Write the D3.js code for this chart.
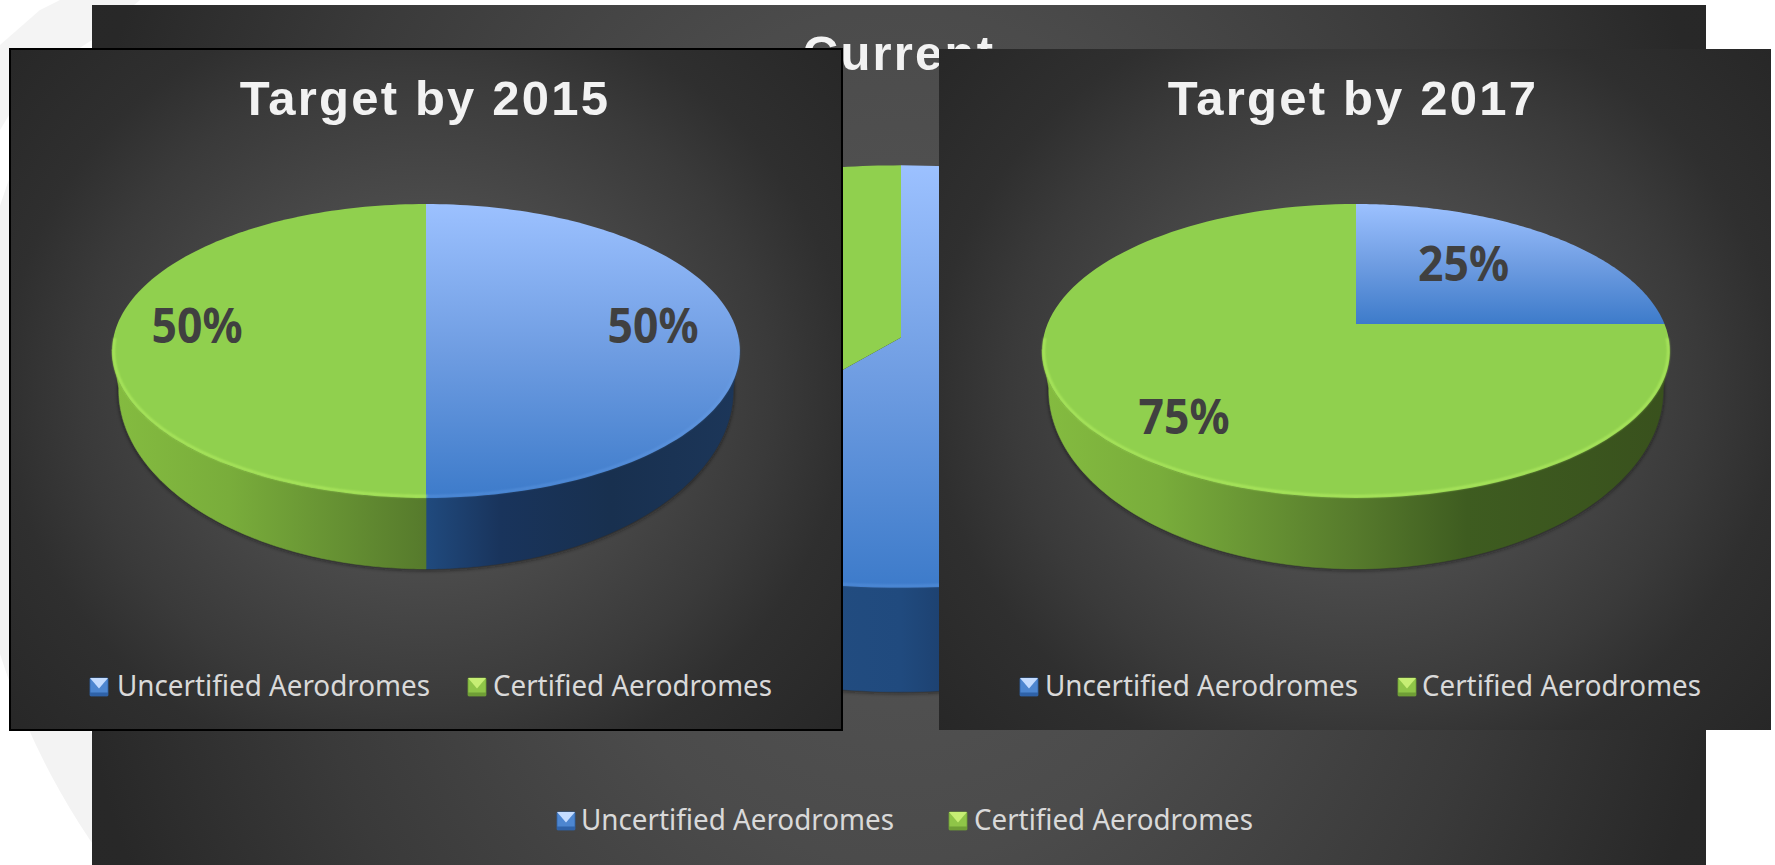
<!DOCTYPE html>
<html><head><meta charset="utf-8">
<script src="https://cdn.jsdelivr.net/npm/d3@7"></script>
<style>html,body{margin:0;background:#fff;overflow:hidden}svg{display:block}</style>
</head><body><svg id="c" width="1775" height="865"></svg>
<script>
const categories = ["Uncertified Aerodromes", "Certified Aerodromes"];
const currentValues = [61, 39];
const target2015Values = [50, 50];
const target2017Values = [25, 75];
const titleCurrent = "Current";
const title2015 = "Target by 2015";
const title2017 = "Target by 2017";

const svg = d3.select("#c"), defs = svg.append("defs");
const fmt = d => d + "%";
const deg = Math.PI / 180;

// watermark behind the slide panels
svg.append("path").attr("transform", "translate(700,430)")
  .attr("d", d3.arc()({innerRadius: 680, outerRadius: 735, startAngle: 205 * deg, endAngle: 300 * deg}))
  .attr("fill", "#f3f3f3");
svg.append("path").attr("d", d3.line()([[0, 45], [40, 10], [60, 0], [140, 0], [92, 40], [30, 80], [0, 130]]))
  .attr("fill", "#f4f4f4");

function radialBg(id, tf, stops, r) {
  const rg = defs.append("radialGradient").attr("id", id)
    .attr("cx", .5).attr("cy", .5).attr("r", r)
    .attr("gradientTransform", tf);
  stops.forEach(s => rg.append("stop").attr("offset", s[0]).attr("stop-color", s[1]));
}
radialBg("panelBg", "translate(.5 .5) scale(.88 1) translate(-.5 -.5)",
  [[0, "#555555"], [.3, "#4e4e4e"], [.62, "#3a3a3a"], [.76, "#2f2f2f"], [1, "#272727"]], .76);
radialBg("backBg", "translate(.5 .5) scale(.7 1.6) translate(-.5 -.5)",
  [[0, "#565656"], [.31, "#4b4b4b"], [.55, "#3a3a3a"], [.75, "#282828"], [1, "#262626"]], 1);

const topBlue = defs.append("linearGradient").attr("id", "topBlue").attr("x1", 0).attr("x2", 0).attr("y1", 0).attr("y2", 1);
[[0, "#9cc1ff"], [.5, "#6f9de2"], [1, "#3d7bca"]].forEach(s => topBlue.append("stop").attr("offset", s[0]).attr("stop-color", s[1]));

const blur = defs.append("filter").attr("id", "soft").attr("x", "-10%").attr("y", "-10%").attr("width", "120%").attr("height", "120%");
blur.append("feGaussianBlur").attr("stdDeviation", 2.2);
const blurThin = defs.append("filter").attr("id", "thin").attr("x", "-10%").attr("y", "-10%").attr("width", "120%").attr("height", "120%");
blurThin.append("feGaussianBlur").attr("stdDeviation", 1);

const sideStops = [
  [[0, "#2b5789"], [.5, "#204a7e"], [.62, "#19345c"], [.8, "#18304f"], [1, "#1c3659"]],
  [[0, "#84bb40"], [.18, "#79ad3b"], [.5, "#567a2c"], [.68, "#3e5c20"], [1, "#39511d"]]
];
const topFill = ["url(#topBlue)", "#90d04e"];
const rimColor = ["#6ea6ee", "#b0ec60"];
const rimOpacity = [.4, .9];

function drawChart(o) {
  const g = svg.append("g");
  const {x0, y0, x1, y1, border, bg} = o.panel;
  g.append("rect").attr("x", x0).attr("y", y0).attr("width", x1 - x0).attr("height", y1 - y0)
    .attr("fill", `url(#${bg})`);
  if (border) g.append("rect").attr("x", x0).attr("y", y0).attr("width", x1 - x0).attr("height", y1 - y0)
    .attr("fill", "none").attr("stroke", "#000").attr("stroke-width", 2);

  const {cx, apexY, R, c, b, depth, botR, botC} = o.pie;
  const proj = (lvl) => a => {
    const u = Math.sin(a), v = Math.cos(a), w = 1 + b * v;
    return [cx + lvl.R * u / w, lvl.y - lvl.c * v / w];
  };
  const frontY = apexY + c / (1 - b) + depth;
  const top = proj({R, c, y: apexY});
  // inner copy of the rim, so that the highlight stays inside the disc
  const topIn = proj({R: R - 1.5, c: c - 1.5, y: apexY});
  const bot = proj({R: botR, c: botC, y: frontY - botC / (1 - b)});
  const line = d3.line();
  const samples = (a0, a1) => d3.range(0, 121).map(i => a0 + (a1 - a0) * i / 120);

  const arcs = d3.pie().sort(null).startAngle(0).endAngle(2 * Math.PI)(o.values);
  const sideA = 100 * deg, sideB = 260 * deg;

  // soft shadow under the disc
  g.append("path").attr("d", line(samples(0, 2 * Math.PI).map(bot)) + "Z")
    .attr("transform", "translate(0,1)")
    .attr("fill", "#161616").attr("opacity", .8).attr("filter", "url(#soft)");

  arcs.forEach((d, i) => {
    const id = o.id + "side" + i;
    const gr = defs.append("linearGradient").attr("id", id).attr("gradientUnits", "userSpaceOnUse")
      .attr("x1", cx - R).attr("x2", cx + R).attr("y1", 0).attr("y2", 0);
    sideStops[i].forEach(s => gr.append("stop").attr("offset", s[0]).attr("stop-color", s[1]));
    const a0 = Math.max(d.startAngle, sideA), a1 = Math.min(d.endAngle, sideB);
    if (a1 > a0) {
      const pts = samples(a0, a1);
      g.append("path").attr("d", line(pts.map(top).concat(pts.slice().reverse().map(bot))) + "Z")
        .attr("fill", `url(#${id})`).attr("stroke", `url(#${id})`).attr("stroke-width", .6);
    }
  });
  arcs.forEach((d, i) => {
    g.append("path")
      .attr("d", line([[cx, apexY]].concat(samples(d.startAngle, d.endAngle).map(top))) + "Z")
      .attr("fill", topFill[i]);
  });
  arcs.forEach((d, i) => {
    const a0 = Math.max(d.startAngle, 96 * deg), a1 = Math.min(d.endAngle, 264 * deg);
    if (a1 > a0) g.append("path").attr("d", line(samples(a0, a1).map(topIn)))
      .attr("fill", "none").attr("stroke", rimColor[i]).attr("stroke-width", 2.2)
      .attr("stroke-linecap", "round").attr("opacity", rimOpacity[i])
      .attr("filter", "url(#thin)");
  });

  if (o.labelAt) {
    g.selectAll("text.lbl").data(arcs).join("text").attr("class", "lbl")
      .attr("x", (d, i) => o.labelAt[i][0]).attr("y", (d, i) => o.labelAt[i][1])
      .attr("text-anchor", "middle")
      .attr("textLength", 91).attr("lengthAdjust", "spacingAndGlyphs")
      .attr("font-family", "'Noto Sans'").attr("font-weight", 700).attr("font-size", 48)
      .attr("fill", "#404040").text(d => fmt(d.data));
  }

  g.append("text").attr("x", o.titleX).attr("y", o.titleY).attr("text-anchor", "middle")
    .attr("font-family", "'Liberation Sans'").attr("font-weight", 700).attr("font-size", 49)
    .attr("letter-spacing", 2.2).attr("fill", "#f2f2f2").text(o.title);

  // legend
  const lg = g.selectAll("g.leg").data(categories).join("g").attr("class", "leg")
    .attr("transform", (d, i) => `translate(${o.legend[i]},${o.legendY})`);
  const sw = 18;
  const swBody = [["#2f62a8", "#4d86d0"], ["#6f9e36", "#8fc548"]];
  const swTop = ["#c4dcff", "#c6ee74"];
  lg.append("rect").attr("x", 0).attr("y", -sw).attr("width", sw).attr("height", sw).attr("rx", 1)
    .attr("fill", (d, i) => swBody[i][1]).attr("stroke", (d, i) => swBody[i][0]).attr("stroke-width", .8);
  lg.append("path").attr("d", line([[0, -sw], [sw, -sw], [sw / 2, -sw * .42]]) + "Z")
    .attr("fill", (d, i) => swTop[i]);
  lg.append("rect").attr("x", 0).attr("y", -3.5).attr("width", sw).attr("height", 3.5)
    .attr("fill", (d, i) => swBody[i][0]);
  lg.append("text").attr("x", (d, i) => o.legendText[i][0]).attr("y", 0)
    .attr("textLength", (d, i) => o.legendText[i][1]).attr("lengthAdjust", "spacingAndGlyphs")
    .attr("font-family", "'Noto Sans'").attr("font-size", 29).attr("fill", "#d9d9d9").text(d => d);
}

drawChart({
  id: "cur", values: currentValues, title: titleCurrent, titleX: 899, titleY: 70,
  panel: {x0: 92, y0: 5, x1: 1706, y1: 865, bg: "backBg"},
  pie: {cx: 901, apexY: 337.5, R: 443, c: 204, b: .185, depth: 104, botR: 434, botC: 248},
  legend: [557, 949], legendY: 830, legendText: [[24, 313], [25, 279]]
});
drawChart({
  id: "t15", values: target2015Values, title: title2015, titleX: 425, titleY: 115,
  panel: {x0: 10, y0: 49, x1: 842, y1: 730, border: true, bg: "panelBg"},
  pie: {cx: 426, apexY: 324, R: 308.5, c: 142, b: .1837, depth: 71, botR: 302, botC: 173},
  legend: [90, 468], legendY: 696, legendText: [[27, 313], [25, 279]],
  labelAt: [[653, 343], [197, 343]]
});
drawChart({
  id: "t17", values: target2017Values, title: title2017, titleX: 1353, titleY: 115,
  panel: {x0: 939, y0: 49, x1: 1771, y1: 730, bg: "panelBg"},
  pie: {cx: 1356, apexY: 324, R: 308.5, c: 142, b: .1837, depth: 71, botR: 302, botC: 173},
  legend: [1020, 1398], legendY: 696, legendText: [[25, 313], [24, 279]],
  labelAt: [[1463.5, 281], [1184, 434]]
});
</script></body></html>
